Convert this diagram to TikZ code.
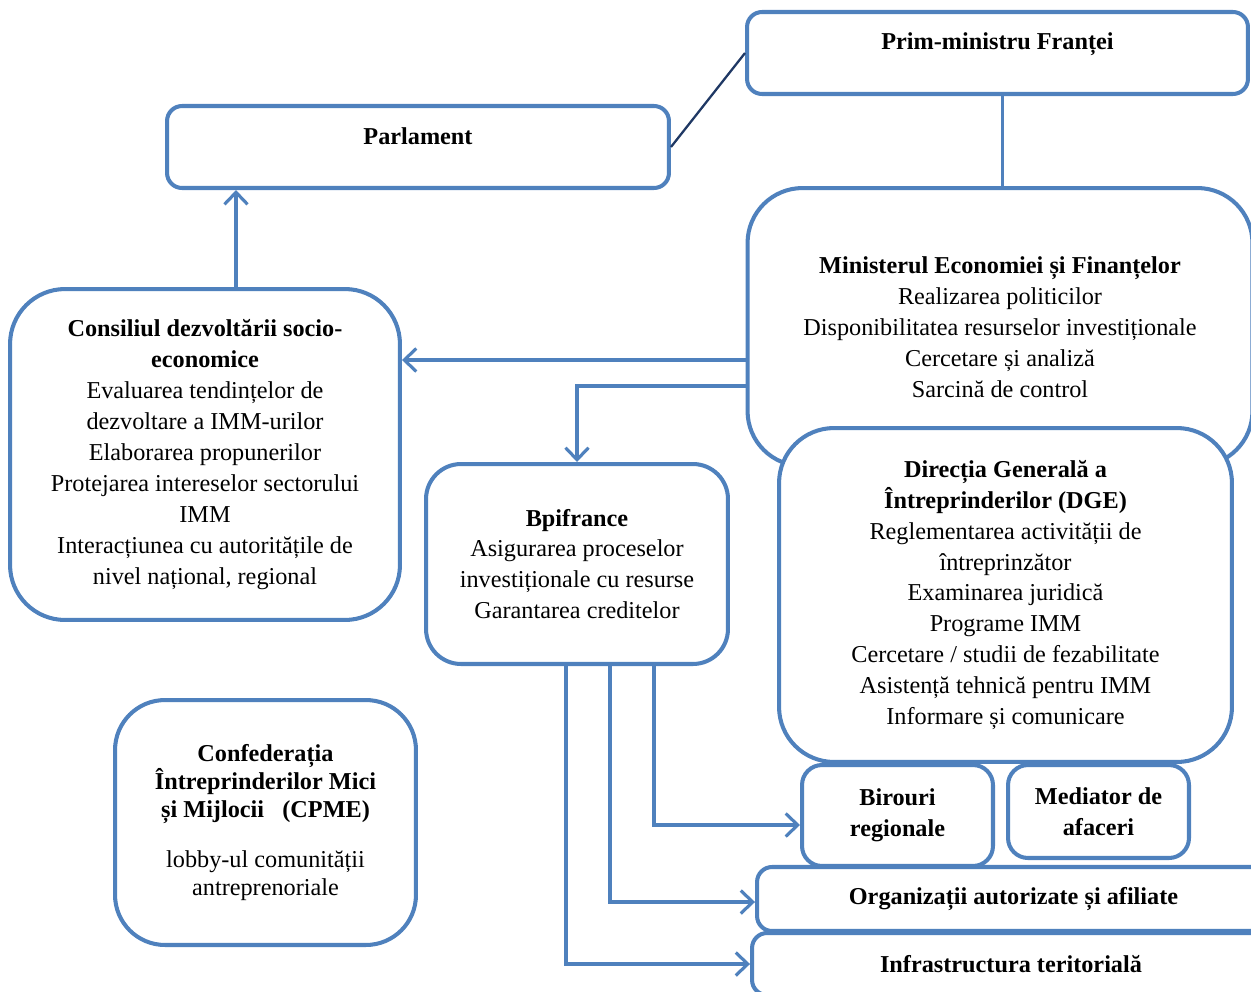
\documentclass[tikz,border=0pt]{standalone}
\usepackage{fontspec}
\setmainfont{Liberation Serif}
\usetikzlibrary{arrows.meta}
\definecolor{boxblue}{RGB}{79,129,189}
\definecolor{navy}{RGB}{31,56,100}
\begin{document}
\begin{tikzpicture}[x=0.02cm,y=-0.02cm,
		box/.style={draw=boxblue,line width=2.3pt,fill=white,align=center,inner sep=0pt,
				font=\fontsize{13.8}{17.6}\selectfont},
		arr/.style={draw=boxblue,line width=1.8pt,-{Straight Barb[length=2.4mm,width=4.6mm]}},
		link/.style={draw=boxblue,line width=1.8pt}]
	\useasboundingbox (0,0) rectangle (1251,991);
	\clip (0,0) rectangle (1251,991);
	% top level
	\node[box,rounded corners=0.3cm,minimum width=10.02cm,text height=0.74cm,text depth=0.9cm]
		(pm) at (997.5,53) {\textbf{Prim-ministru Franței}};
	\node[box,rounded corners=0.3cm,minimum width=10.04cm,text height=0.76cm,text depth=0.88cm]
		(parl) at (418,147) {\textbf{Parlament}};
	\node[box,rounded corners=1.1cm,minimum width=10.1cm,minimum height=5.56cm]
		(min) at (1000,327) {\textbf{Ministerul Economiei și Finanțelor}\\Realizarea politicilor\\
			Disponibilitatea resurselor investiționale\\Cercetare și analiză\\Sarcină de control};
	\node[box,rounded corners=1.1cm,minimum width=9.06cm,minimum height=6.68cm]
		(dge) at (1005.5,595) {\textbf{Direcția Generală a}\\\textbf{Întreprinderilor (DGE)}\\
			Reglementarea activității de\\întreprinzător\\Examinarea juridică\\Programe IMM\\
			Cercetare / studii de fezabilitate\\Asistență tehnică pentru IMM\\Informare și comunicare};
	% left side
	\node[box,rounded corners=1.1cm,minimum width=7.8cm,minimum height=6.62cm]
		(cons) at (205,454.5) {\textbf{Consiliul dezvoltării socio-}\\\textbf{economice}\\
			Evaluarea tendințelor de\\dezvoltare a IMM-urilor\\Elaborarea propunerilor\\
			Protejarea intereselor sectorului\\IMM\\Interacțiunea cu autoritățile de\\nivel național, regional};
	\node[box,rounded corners=0.7cm,minimum width=6.04cm,minimum height=4cm]
		(bpi) at (577,564) {\textbf{Bpifrance}\\Asigurarea proceselor\\investiționale cu resurse\\Garantarea creditelor};
	\node[box,rounded corners=1cm,minimum width=6.02cm,minimum height=4.9cm,
		font=\fontsize{13.8}{15.8}\selectfont]
		(cpme) at (265.5,822.5) {\textbf{Confederația}\\\textbf{Întreprinderilor Mici}\\
			\textbf{și Mijlocii~~~(CPME)}\\[13pt]lobby-ul comunității\\antreprenoriale};
	% bottom right
	\node[box,rounded corners=0.4cm,minimum width=3.82cm,minimum height=2.02cm]
		(bir) at (897.5,815.5) {\textbf{Birouri}\\\textbf{regionale}};
	\node[box,rounded corners=0.4cm,minimum width=3.62cm,minimum height=1.86cm]
		(med) at (1098.5,811.5) {\textbf{Mediator de}\\\textbf{afaceri}};
	\node[box,rounded corners=0.3cm,minimum width=10.26cm,minimum height=1.28cm]
		(org) at (1013.5,899) {\textbf{Organizații autorizate și afiliate}};
	\node[box,rounded corners=0.3cm,minimum width=10.36cm,minimum height=1.24cm]
		(inf) at (1011,964) {\textbf{Infrastructura teritorială}};
	% connectors
	\draw[navy,line width=1.3pt] (parl.east) -- (pm.west);
	\draw[link] ([xshift=0.1cm]pm.south) -- ([xshift=0.1cm]pm.south |- min.north);
	\draw[arr] ([xshift=0.62cm]cons.north) -- ([xshift=0.62cm]cons.north |- parl.south);
	\draw[arr] ([yshift=-0.66cm]min.west) -- ([yshift=-0.66cm]min.west -| cons.east);
	\draw[arr] ([yshift=-1.18cm]min.west) -| (bpi.north);
	\draw[arr] ([xshift=1.54cm]bpi.south) |- ([yshift=-0.19cm]bir.west);
	\draw[arr] ([xshift=0.66cm]bpi.south) |- ([yshift=-0.06cm]org.west);
	\draw[arr] ([xshift=-0.22cm]bpi.south) |- (inf.west);
\end{tikzpicture}
\end{document}
